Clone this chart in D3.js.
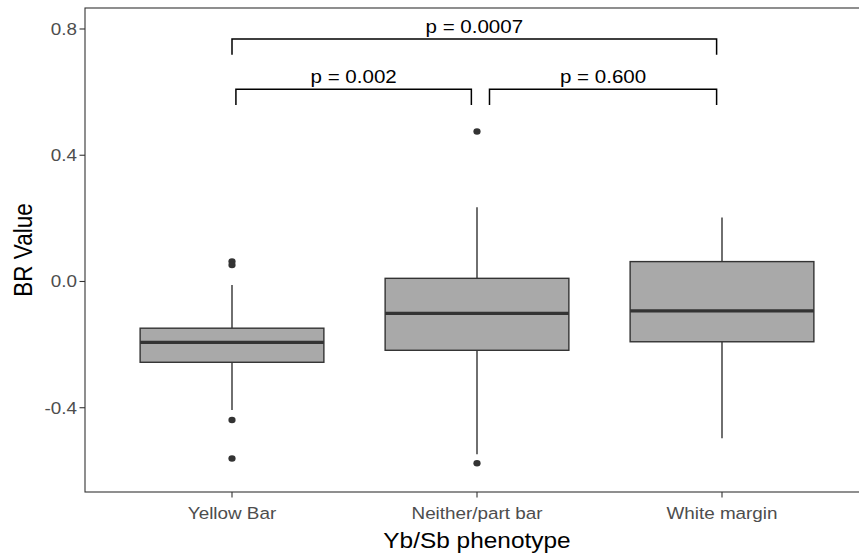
<!DOCTYPE html>
<html><head><meta charset="utf-8">
<script src="https://cdn.jsdelivr.net/npm/d3@7"></script>
<style>body{margin:0;background:#fff}svg{display:block}</style>
</head><body>
<svg id="c" width="859" height="556"></svg>
<script>
// ---- data ----
const categories = ["Yellow Bar", "Neither/part bar", "White margin"];
const q1 = [-0.256, -0.218, -0.191];
const medians = [-0.193, -0.101, -0.093];
const q3 = [-0.148, 0.010, 0.063];
const whiskerLow = [-0.407, -0.547, -0.497];
const whiskerHigh = [-0.011, 0.235, 0.203];
const outliers = [[0.063, 0.052, -0.439, -0.561], [0.475, -0.576], []];
const yTicks = [-0.4, 0.0, 0.4, 0.8];
const yTickLabels = ["-0.4", "0.0", "0.4", "0.8"];
// significance brackets (x in category positions, 0-based)
const bracketX1 = [0.0, 0.016, 1.051];
const bracketX2 = [1.978, 0.977, 1.978];
const bracketY = [0.768, 0.609, 0.609];
const bracketTip = [0.05, 0.05, 0.05];
const bracketLabels = ["p = 0.0007", "p = 0.002", "p = 0.600"];

// ---- layout ----
const L = 85, R = 869, T = 8, B = 492;
const SX = 1.11; // horizontal glyph stretch seen in reference
const svg = d3.select("#c");
const x = d3.scalePoint().domain(categories).range([L, R]).padding(0.6);
const xi = d3.scaleLinear().domain([0, 2]).range([x(categories[0]), x(categories[2])]);
const y = d3.scaleLinear().domain([-0.667, 0.8665]).range([B, T]);
const bw = x.step() * 0.75;
const dark = "#333333";

function txt(g, s, tx, ty, size, anchor, color, rot) {
  return g.append("text")
    .attr("transform", `translate(${tx},${ty}) scale(${SX},1)` + (rot ? ` rotate(${rot})` : ""))
    .attr("text-anchor", anchor)
    .attr("font-family", "Liberation Sans, Arial, sans-serif")
    .attr("font-size", size)
    .attr("fill", color)
    .text(s);
}

// panel border
svg.append("rect").attr("x", L).attr("y", T).attr("width", R - L).attr("height", B - T)
  .attr("fill", "none").attr("stroke", dark).attr("stroke-width", 1.1);

// boxes
const g = svg.append("g");
categories.forEach((c, i) => {
  const cx = x(c);
  g.append("line").attr("x1", cx).attr("x2", cx).attr("y1", y(q3[i])).attr("y2", y(whiskerHigh[i]))
    .attr("stroke", dark).attr("stroke-width", 1.4);
  g.append("line").attr("x1", cx).attr("x2", cx).attr("y1", y(q1[i])).attr("y2", y(whiskerLow[i]))
    .attr("stroke", dark).attr("stroke-width", 1.4);
  g.append("rect").attr("x", cx - bw / 2).attr("width", bw)
    .attr("y", y(q3[i])).attr("height", y(q1[i]) - y(q3[i]))
    .attr("fill", "#a9a9a9").attr("stroke", dark).attr("stroke-width", 1.4);
  g.append("line").attr("x1", cx - bw / 2).attr("x2", cx + bw / 2)
    .attr("y1", y(medians[i])).attr("y2", y(medians[i]))
    .attr("stroke", dark).attr("stroke-width", 3.2);
  outliers[i].forEach(v => {
    g.append("ellipse").attr("cx", cx).attr("cy", y(v)).attr("rx", 3.6).attr("ry", 3.3).attr("fill", dark);
  });
});

// brackets
bracketLabels.forEach((lab, i) => {
  const x1 = xi(bracketX1[i]), x2 = xi(bracketX2[i]);
  const yy = y(bracketY[i]), yt = y(bracketY[i] - bracketTip[i]);
  svg.append("path").attr("d", `M${x1},${yt}V${yy}H${x2}V${yt}`)
    .attr("fill", "none").attr("stroke", "#000").attr("stroke-width", 1.5);
  txt(svg, lab, (x1 + x2) / 2, yy - 6.5, 18.5, "middle", "#000");
});

// y axis ticks
yTicks.forEach((v, i) => {
  svg.append("line").attr("x1", L - 5.5).attr("x2", L).attr("y1", y(v)).attr("y2", y(v))
    .attr("stroke", dark).attr("stroke-width", 1.1);
  txt(svg, yTickLabels[i], L - 8, y(v) + 6, 17, "end", "#4d4d4d");
});
// x axis ticks
categories.forEach(c => {
  svg.append("line").attr("x1", x(c)).attr("x2", x(c)).attr("y1", B).attr("y2", B + 5.5)
    .attr("stroke", dark).attr("stroke-width", 1.1);
  txt(svg, c, x(c), 519, 17, "middle", "#4d4d4d");
});

// axis titles
txt(svg, "Yb/Sb phenotype", (L + R) / 2, 548, 22, "middle", "#000");
txt(svg, "BR Value", 31.5, (T + B) / 2, 22.5, "middle", "#000", -90);
</script>
</body></html>
